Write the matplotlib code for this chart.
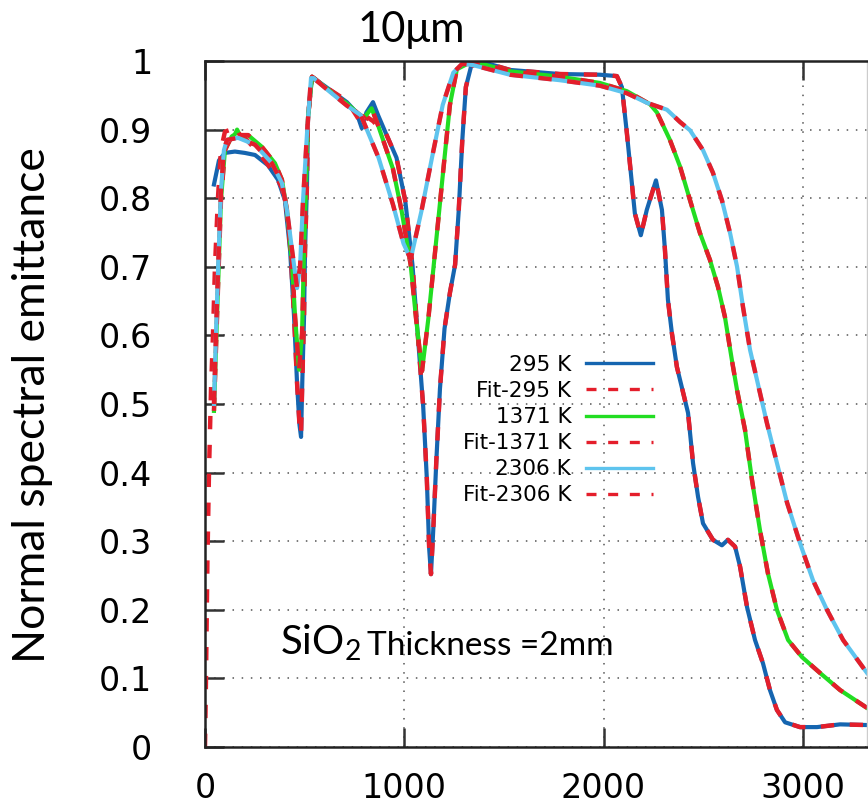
import numpy as np
import matplotlib
matplotlib.use("Agg")
import matplotlib.pyplot as plt

plt.rcParams['mathtext.default'] = 'regular'

# ---- data (wavenumber, emittance) ----
x_295 = [45, 70, 100, 150, 200, 251, 316, 366, 401, 427, 447, 462, 474, 482, 488,
         497, 502, 512, 517, 537, 560, 627, 712, 760, 787, 810, 843, 870, 907, 961,
         1005, 1041, 1068, 1095, 1113, 1125, 1134, 1145, 1161, 1179, 1202, 1229,
         1255, 1273, 1291, 1309, 1336, 1400, 1530, 1781, 1982, 2067, 2092, 2117,
         2142, 2157, 2187, 2217, 2263, 2293, 2308, 2323, 2343, 2368, 2424, 2449,
         2474, 2499, 2549, 2594, 2624, 2660, 2685, 2720, 2760, 2800, 2835, 2870,
         2911, 2986, 3071, 3187, 3322]
y_295 = [0.82, 0.855, 0.866, 0.868, 0.866, 0.863, 0.848, 0.827, 0.797, 0.724, 0.627,
         0.53, 0.47, 0.452, 0.53, 0.627, 0.724, 0.822, 0.918, 0.977, 0.972, 0.958,
         0.94, 0.925, 0.902, 0.925, 0.94, 0.92, 0.895, 0.859, 0.796, 0.703, 0.6,
         0.496, 0.392, 0.289, 0.252, 0.314, 0.418, 0.522, 0.61, 0.662, 0.703, 0.781,
         0.884, 0.962, 0.993, 0.998, 0.987, 0.981, 0.98, 0.978, 0.962, 0.895, 0.822,
         0.778, 0.746, 0.783, 0.826, 0.783, 0.725, 0.652, 0.603, 0.554, 0.487, 0.414,
         0.365, 0.326, 0.302, 0.294, 0.302, 0.292, 0.263, 0.204, 0.156, 0.122, 0.083,
         0.054, 0.036, 0.029, 0.029, 0.033, 0.032]

# fit for 295 K departs from the data below ~900 cm-1
xfit_295_low = [0, 5, 12, 20, 30, 40, 50, 65, 80, 100, 130, 160, 200, 250, 300, 351,
                386, 411, 430, 447, 462, 474, 482, 488, 497, 502, 512, 517, 537, 560,
                627, 712, 765, 788, 815, 845, 880]
yfit_295_low = [0.0, 0.1, 0.27, 0.40, 0.52, 0.60, 0.70, 0.80, 0.87, 0.897, 0.90, 0.895,
                0.888, 0.872, 0.855, 0.835, 0.815, 0.78, 0.72, 0.627, 0.53, 0.47, 0.455,
                0.53, 0.627, 0.724, 0.822, 0.918, 0.977, 0.972, 0.958, 0.942, 0.918,
                0.905, 0.918, 0.912, 0.9]
xfit_295 = xfit_295_low + x_295[28:]
yfit_295 = yfit_295_low + y_295[28:]

x_1371 = [45, 55, 66, 80, 100, 134, 150, 161, 175, 216, 285, 351, 386, 411, 437, 452,
          472, 487, 497, 507, 517, 537, 560, 627, 712, 778, 800, 836, 870, 943, 987,
          1032, 1059, 1089, 1121, 1148, 1175, 1202, 1229, 1264, 1318, 1400, 1530,
          1781, 1982, 2117, 2233, 2268, 2333, 2384, 2434, 2484, 2534, 2574, 2609,
          2644, 2670, 2710, 2745, 2785, 2825, 2870, 2926, 2996, 3086, 3187, 3322]
y_1371 = [0.49, 0.58, 0.676, 0.797, 0.87, 0.89, 0.893, 0.9, 0.892, 0.892, 0.875, 0.851,
          0.827, 0.783, 0.705, 0.627, 0.55, 0.603, 0.724, 0.822, 0.918, 0.977, 0.972,
          0.956, 0.938, 0.921, 0.918, 0.931, 0.905, 0.843, 0.781, 0.703, 0.625, 0.548,
          0.625, 0.703, 0.781, 0.859, 0.936, 0.988, 0.996, 0.995, 0.985, 0.977, 0.968,
          0.956, 0.937, 0.925, 0.885, 0.846, 0.797, 0.749, 0.71, 0.671, 0.627, 0.564,
          0.52, 0.462, 0.389, 0.316, 0.253, 0.2, 0.156, 0.131, 0.108, 0.083, 0.057]

x_2306 = [45, 55, 66, 80, 95, 110, 166, 251, 336, 386, 411, 437, 462, 477, 492, 512,
          532, 545, 627, 712, 782, 871, 943, 996, 1032, 1086, 1139, 1193, 1246, 1291,
          1345, 1530, 1781, 1982, 2117, 2218, 2318, 2384, 2434, 2499, 2549, 2594,
          2635, 2670, 2700, 2735, 2770, 2820, 2870, 2921, 2986, 3051, 3121, 3202, 3322]
y_2306 = [0.5, 0.6, 0.7, 0.81, 0.87, 0.885, 0.888, 0.878, 0.851, 0.822, 0.783, 0.724,
          0.669, 0.7, 0.797, 0.895, 0.975, 0.975, 0.955, 0.935, 0.921, 0.859, 0.791,
          0.734, 0.711, 0.781, 0.859, 0.936, 0.983, 0.996, 0.994, 0.98, 0.972, 0.964,
          0.953, 0.939, 0.929, 0.911, 0.899, 0.87, 0.837, 0.797, 0.749, 0.7, 0.641,
          0.579, 0.535, 0.472, 0.414, 0.356, 0.297, 0.243, 0.2, 0.156, 0.108]

y_ticks = [0, 0.1, 0.2, 0.3, 0.4, 0.5, 0.6, 0.7, 0.8, 0.9, 1]
y_ticklabels = ['0', '0.1', '0.2', '0.3', '0.4', '0.5', '0.6', '0.7', '0.8', '0.9', '1']
x_ticks = [0, 1000, 2000, 3000]

c_295 = '#1565b0'
c_1371 = '#22dd22'
c_2306 = '#5ec4ee'
c_fit = '#e41e2b'

fig = plt.figure(figsize=(8.68, 8.11), dpi=100)
ax = fig.add_axes([205 / 868, 64 / 811, 662 / 868, 686 / 811])

lw_data = 3.0
lw_fit = 3.2
dash = (3, 3.5)

ax.plot(x_295, y_295, color=c_295, lw=lw_data, label='295 K')
ax.plot(xfit_295, yfit_295, color=c_fit, lw=lw_fit, dashes=dash, label='Fit-295 K')
ax.plot(x_1371, y_1371, color=c_1371, lw=lw_data, label='1371 K')
ax.plot(x_1371, y_1371, color=c_fit, lw=lw_fit, dashes=dash, label='Fit-1371 K')
ax.plot(x_2306, y_2306, color=c_2306, lw=lw_data, label='2306 K')
ax.plot(x_2306, y_2306, color=c_fit, lw=lw_fit, dashes=dash, label='Fit-2306 K')

ax.set_xlim(0, 3322)
ax.set_ylim(0, 1)
ax.set_xticks(x_ticks)
ax.set_yticks(y_ticks)
ax.set_yticklabels(y_ticklabels)

ax.grid(True, linestyle=(0, (1, 5)), color='#555555', lw=1.1)
ax.set_axisbelow(True)

for s in ['left', 'bottom', 'top']:
    ax.spines[s].set_linewidth(1.8)
    ax.spines[s].set_color('#222222')
ax.spines['right'].set_color('#cccccc')
ax.spines['right'].set_linewidth(1)

ax.tick_params(axis='both', direction='in', length=14, width=1.8, color='#333333',
               labelsize=24, top=True, right=False)
ax.tick_params(axis='y', pad=38)
ax.tick_params(axis='x', pad=18)

leg = ax.legend(loc='upper right', bbox_to_anchor=((653 - 205) / 662, (747 - 355) / 686),
                frameon=False, markerfirst=False, fontsize=15.5, handlelength=3.1,
                handletextpad=0.7, labelspacing=0.28, borderaxespad=0, borderpad=0)
for line in leg.get_lines():
    line.set_linewidth(2.4)

ax.text(376, 0.134, 'SiO$_2$', fontsize=29, family='Lato', va='baseline')
ax.text(813, 0.134, 'Thickness =2mm', fontsize=24, family='Lato', va='baseline')

fig.text(411 / 868, 1 - 30 / 811, '10μm', ha='center', va='center', fontsize=30,
         family='Lato')
fig.text(33 / 868, 1 - 405 / 811, 'Normal spectral emittance', rotation=90,
         ha='center', va='center', fontsize=32, family='Lato')

fig.savefig('out.png', dpi=100)
